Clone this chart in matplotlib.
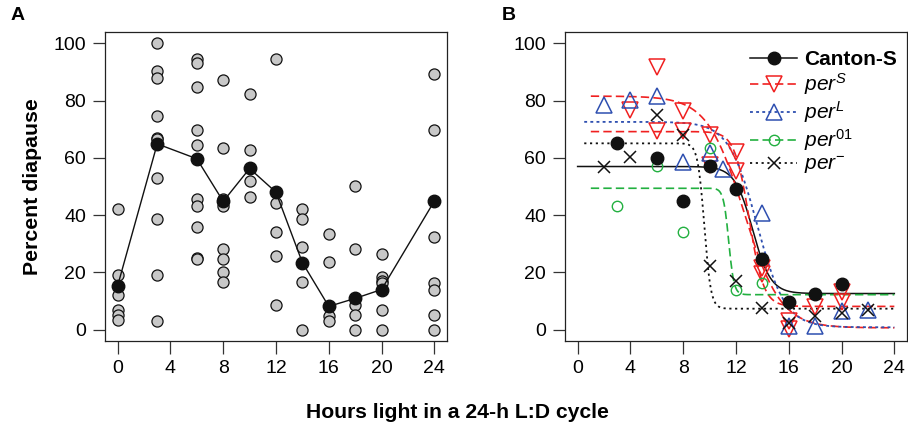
import numpy as np
import matplotlib
matplotlib.use('Agg')
import matplotlib.pyplot as plt
from matplotlib.lines import Line2D

plt.rcParams['font.family'] = ['Liberation Sans', 'DejaVu Sans']
plt.rcParams['mathtext.fontset'] = 'custom'
plt.rcParams['mathtext.rm'] = 'Liberation Sans'
plt.rcParams['mathtext.it'] = 'Liberation Sans:italic'
plt.rcParams['mathtext.bf'] = 'Liberation Sans:bold'

# ---- panel A: replicate values and means per photoperiod ----
a_hours = [0, 3, 6, 8, 10, 12, 14, 16, 18, 20, 24]
a_reps = [
    [42.1, 19.0, 12.1, 7.0, 5.2, 3.5],
    [100.2, 90.5, 88.1, 74.8, 67.1, 66.6, 53.0, 38.6, 19.1, 2.9],
    [94.5, 93.3, 84.7, 69.8, 64.5, 45.6, 43.3, 35.7, 24.9, 24.7],
    [87.4, 63.4, 45.7, 43.3, 28.1, 24.8, 20.2, 16.6],
    [82.3, 62.8, 51.9, 46.2],
    [94.5, 44.4, 34.1, 25.6, 8.7],
    [42.1, 38.6, 28.7, 16.7, 0.0],
    [33.5, 23.7, 4.9, 2.9],
    [50.2, 28.3, 8.6, 5.2, 0.0],
    [26.5, 18.5, 16.9, 16.3, 7.0, 0.0],
    [89.3, 69.8, 32.3, 16.2, 14.0, 5.2, 0.0],
]
a_means = [15.3, 64.9, 59.7, 44.8, 56.3, 48.0, 23.4, 8.1, 10.9, 14.0, 44.9]

# ---- panel B: genotype points ----
cs_x = [3, 6, 8, 10, 12, 14, 16, 18, 20]
cs_y = [65.2, 59.8, 45.0, 57.0, 49.3, 24.5, 9.7, 12.3, 15.9]
perS_x = [4, 6, 6, 8, 8, 10, 10, 12, 12, 14, 14, 16, 16, 18, 20, 20]
perS_y = [76.7, 91.8, 69.5, 76.3, 69.5, 68.0, 57.5, 62.0, 55.5, 21.5, 19.5,
          3.0, 0.3, 7.8, 13.3, 9.8]
perL_x = [2, 4, 6, 8, 10, 11, 14, 16, 18, 20, 22]
perL_y = [78.5, 80.2, 81.5, 58.6, 61.8, 56.2, 40.7, 1.3, 1.3, 6.4, 7.0]
per01_x = [3, 6, 8, 10, 12, 14, 16, 18]
per01_y = [43.3, 57.0, 34.1, 63.4, 13.9, 16.3, 9.7, 12.3]
perm_x = [2, 4, 6, 8, 10, 12, 14, 16, 18, 20, 22]
perm_y = [56.7, 60.3, 74.9, 68.0, 22.2, 16.9, 7.7, 2.2, 4.7, 5.8, 6.9]

# fitted sigmoid parameters: top, bottom, midpoint, scale, start hour
fit_cs = [57.0, 12.6, 13.27, 0.68, 0.0]
fit_perS_a = [81.6, 0.6, 12.6, 1.38, 1.0]
fit_perS_b = [69.2, 8.1, 13.0, 0.55, 1.0]
fit_perL = [72.6, 0.8, 13.6, 1.07, 0.5]
fit_per01 = [49.4, 12.2, 11.45, 0.2, 1.0]
fit_perm = [65.1, 7.3, 9.6, 0.25, 0.5]

RED = '#f02020'
BLUE = '#2e4fb0'
GREEN = '#22b040'


def sigmoid(p):
    top, bottom, mid, scale, start = p
    x = np.linspace(start, 24, 400)
    return x, bottom + (top - bottom) / (1 + np.exp((x - mid) / scale))


def style_axes(ax):
    ax.set_xlim(-0.96, 24.96)
    ax.set_ylim(-4, 104)
    ax.set_xticks(range(0, 25, 4))
    ax.set_yticks(range(0, 101, 20))
    ax.tick_params(labelsize=14, length=9, width=0.9, pad=4.5, color='#333333')
    for s in ax.spines.values():
        s.set_linewidth(0.9)
        s.set_color('#222222')


fig = plt.figure(figsize=(9.08, 4.32), dpi=100)
axA = fig.add_axes([0.1156, 0.2106, 0.3767, 0.7153])
axB = fig.add_axes([0.6222, 0.2106, 0.3767, 0.7153])

# panel A
for h, reps in zip(a_hours, a_reps):
    axA.plot([h] * len(reps), reps, 'o', ms=8, mfc='#c8c8c8', mec='#111111',
             mew=0.9, ls='none', zorder=2)
axA.plot(a_hours, a_means, '-', color='#111111', lw=1.0, zorder=3)
axA.plot(a_hours, a_means, 'o', ms=9, color='#111111', ls='none', zorder=4)
style_axes(axA)
axA.set_ylabel('Percent diapause', fontsize=15.3, fontweight='bold', labelpad=8)

# panel B curves
x, y = sigmoid(fit_cs)
axB.plot(x, y, '-', color='#111111', lw=1.1)
for p in (fit_perS_a, fit_perS_b):
    x, y = sigmoid(p)
    axB.plot(x, y, color=RED, lw=1.2, dashes=(5, 2.5))
x, y = sigmoid(fit_perL)
axB.plot(x, y, color=BLUE, lw=1.3, dashes=(1.6, 1.8))
x, y = sigmoid(fit_per01)
axB.plot(x, y, color=GREEN, lw=1.2, dashes=(5, 2.5))
x, y = sigmoid(fit_perm)
axB.plot(x, y, color='#111111', lw=1.3, dashes=(1.2, 2.0))

# panel B points
axB.plot(perS_x, perS_y, 'v', ms=11, mfc='none', mec=RED, mew=1.1, ls='none')
axB.plot(perL_x, perL_y, '^', ms=11, mfc='none', mec=BLUE, mew=1.1, ls='none')
axB.plot(per01_x, per01_y, 'o', ms=7.5, mfc='none', mec=GREEN, mew=1.0, ls='none')
axB.plot(perm_x, perm_y, 'x', ms=9, color='#111111', mew=1.1, ls='none')
axB.plot(cs_x, cs_y, 'o', ms=9, color='#111111', ls='none')
style_axes(axB)

handles = [
    Line2D([], [], color='#111111', lw=1.1, marker='o', ms=9),
    Line2D([], [], color=RED, lw=1.2, dashes=(5, 2.5), marker='v', ms=11, mfc='none', mew=1.1),
    Line2D([], [], color=BLUE, lw=1.3, dashes=(1.6, 1.8), marker='^', ms=11, mfc='none', mew=1.1),
    Line2D([], [], color=GREEN, lw=1.2, dashes=(5, 2.5), marker='o', ms=7.5, mfc='none'),
    Line2D([], [], color='#111111', lw=1.3, dashes=(1.2, 2.0), marker='x', ms=9, mew=1.1),
]
labels = ['Canton-S', r'$\mathit{per}^{S}$', r'$\mathit{per}^{L}$',
          r'$\mathit{per}^{01}$', r'$\mathit{per}^{-}$']
leg = axB.legend(handles, labels, loc='upper right', bbox_to_anchor=(1.0, 0.975),
                 frameon=False, fontsize=15, handlelength=2.3, labelspacing=0.1,
                 borderaxespad=0.1, handletextpad=0.3, numpoints=1)
leg.get_texts()[0].set_fontweight('bold')

fig.text(0.012, 0.965, 'A', fontsize=14, fontweight='bold', va='center')
fig.text(0.553, 0.965, 'B', fontsize=14, fontweight='bold', va='center')
fig.text(0.504, 0.046, 'Hours light in a 24-h L:D cycle', fontsize=15.2,
         fontweight='bold', ha='center', va='center')

fig.savefig('out.png', dpi=100)
